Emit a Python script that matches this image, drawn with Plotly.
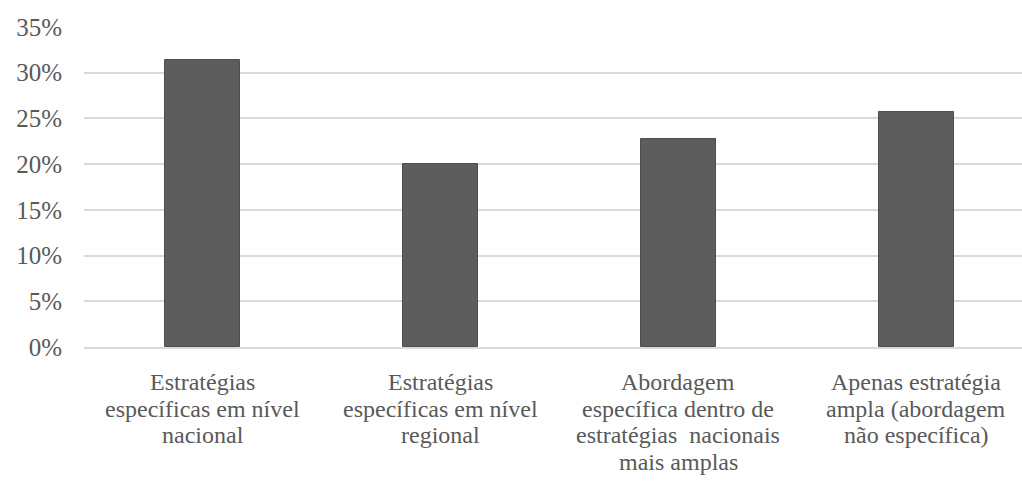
import plotly.graph_objects as go

# Category labels, one list of lines per bar, and shares in percent
categories = [
    ["Estratégias", "específicas em nível", "nacional"],
    ["Estratégias", "específicas em nível", "regional"],
    ["Abordagem", "específica dentro de", "estratégias  nacionais", "mais amplas"],
    ["Apenas estratégia", "ampla (abordagem", "não específica)"],
]
values = [31.4, 20.0, 22.8, 25.7]
y_ticks = [0, 5, 10, 15, 20, 25, 30, 35]

positions = list(range(len(categories)))
text_color = "#595959"
font_family = "Liberation Serif, Times New Roman, serif"

fig = go.Figure(
    go.Bar(
        x=positions,
        y=values,
        width=0.315,
        marker=dict(color="#5d5d5d", line=dict(color="#4f4f4f", width=1)),
        hoverinfo="skip",
    )
)

# Category labels set under each bar, line by line, with tight line spacing
line_gap = 26.5
for pos, lines in zip(positions, categories):
    for j, line in enumerate(lines):
        fig.add_annotation(
            x=pos,
            xref="x",
            y=0,
            yref="paper",
            yanchor="middle",
            xanchor="center",
            yshift=-(35 + line_gap * j),
            text=line,
            showarrow=False,
            font=dict(size=24, family=font_family, color=text_color),
        )

fig.update_layout(
    width=1022,
    height=481,
    margin=dict(l=84, r=0, t=27, b=134),
    paper_bgcolor="white",
    plot_bgcolor="white",
    showlegend=False,
    font=dict(family=font_family, color=text_color),
    bargap=0,
)

fig.update_xaxes(
    tickmode="array",
    tickvals=positions,
    range=[-0.5, 3.445],
    showgrid=False,
    showline=True,
    linecolor="#d9d9d9",
    linewidth=2,
    ticks="",
    showticklabels=False,
    fixedrange=True,
)

fig.update_yaxes(
    range=[0, 35],
    tickmode="array",
    tickvals=y_ticks,
    ticktext=[f"{v}%" for v in y_ticks],
    showgrid=True,
    gridcolor="#d9d9d9",
    gridwidth=2,
    zeroline=False,
    showline=False,
    ticks="",
    tickfont=dict(size=25, family=font_family, color=text_color),
    ticklabelstandoff=21,
    fixedrange=True,
)

fig.write_html("out.html", config={"displayModeBar": False})
